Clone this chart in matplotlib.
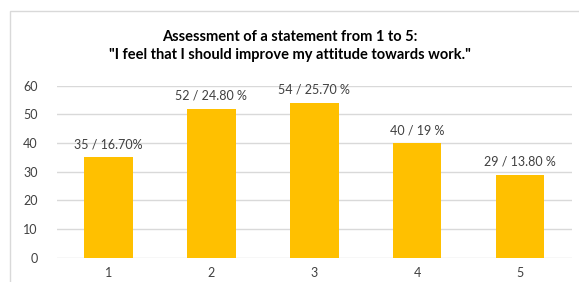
import matplotlib
matplotlib.use("Agg")
import matplotlib.pyplot as plt
from matplotlib.patches import Rectangle

categories = ["1", "2", "3", "4", "5"]
values = [35, 52, 54, 40, 29]
labels = ["35 / 16.70%", "52 / 24.80 %", "54 / 25.70 %", "40 / 19 %", "29 / 13.80 %"]
yticks = [0, 10, 20, 30, 40, 50, 60]
title = 'Assessment of a statement from 1 to 5:\n"I feel that I should improve my attitude towards work."'

W, H = 579, 282
fig = plt.figure(figsize=(W / 100, H / 100), dpi=100)
plt.rcParams['font.family'] = ['Lato', 'DejaVu Sans']

# outer chart border
fig.patches.append(Rectangle((10 / W, -0.1), (W - 10) / W + 0.1, 1.1 - 11 / H,
                             transform=fig.transFigure, fill=False,
                             edgecolor="#D9D9D9", linewidth=1.0))

left, right = 57 / W, 571.7 / W
bottom, top = 1 - 257.7 / H, 1 - 85.7 / H
ax = fig.add_axes([left, bottom, right - left, top - bottom])
x = list(range(len(categories)))
ax.bar(x, values, width=0.47, color="#FFC000", zorder=3)
ax.set_xlim(-0.5, len(categories) - 0.5)
ax.set_ylim(0, 60)
ax.set_yticks(yticks)
ax.set_xticks(x)
ax.set_xticklabels(categories)
ax.grid(axis="y", color="#D9D9D9", linewidth=1.0, zorder=0)
for s in ax.spines.values():
    s.set_visible(False)
ax.tick_params(axis="both", length=0, labelsize=9, colors="#404040", pad=7)
ax.tick_params(axis="y", pad=14)

for xi, v, lab in zip(x, values, labels):
    ax.annotate(lab, (xi, v), xytext=(0, 5), textcoords="offset points",
                ha="center", va="bottom", fontsize=9, color="#404040")

fig.text(0.5, 1 - 46 / H, title, ha="center", va="center", fontsize=10.5,
         fontweight="bold", color="#000000", linespacing=1.4)

fig.savefig("out.png", dpi=100)
